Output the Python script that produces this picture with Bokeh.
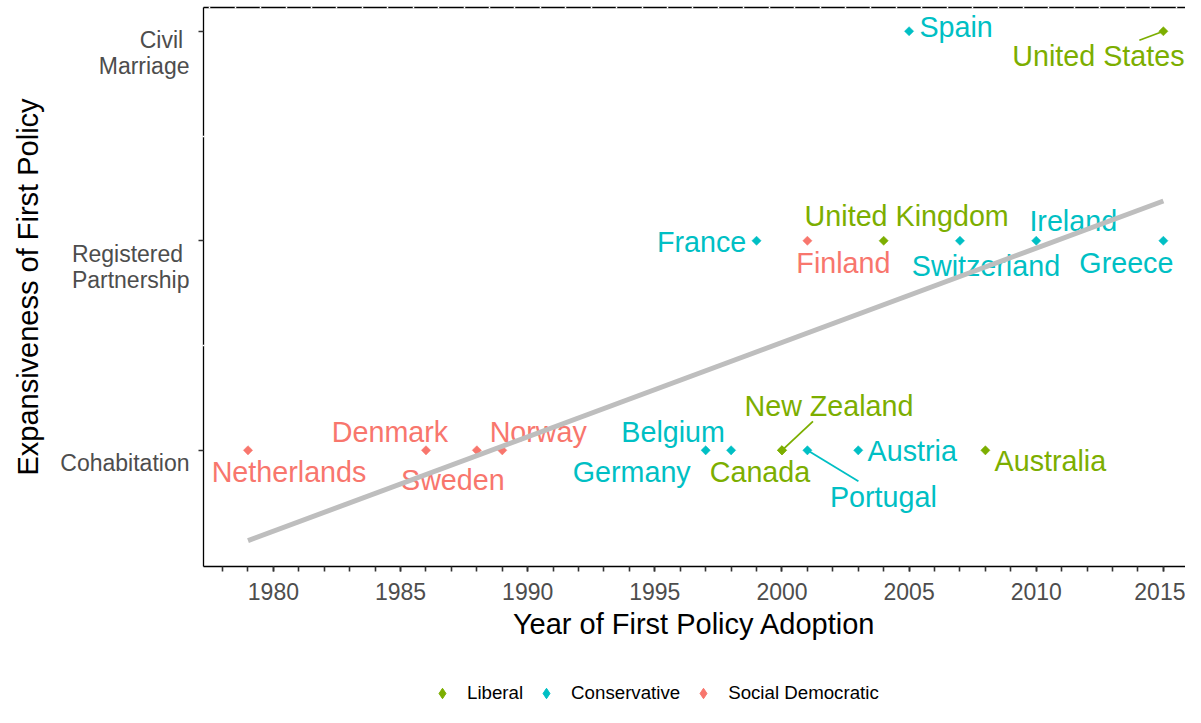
import numpy as np
from bokeh.plotting import figure
from bokeh.layouts import column
from bokeh.models import FixedTicker, Legend, LegendItem, ColumnDataSource, Range1d, LinearAxis
from bokeh.core.properties import value
from bokeh.embed import file_html
from bokeh.resources import INLINE

# ---------------- data ----------------
countries = ["Netherlands", "Denmark", "Sweden", "Norway", "Germany", "Belgium",
             "Canada", "New Zealand", "Portugal", "Austria", "Australia",
             "France", "Finland", "United Kingdom", "Switzerland", "Ireland", "Greece",
             "Spain", "United States"]
years = [1979, 1986, 1988, 1989, 1997, 1998,
         2000, 2000, 2001, 2003, 2008,
         1999, 2001, 2004, 2007, 2010, 2015,
         2005, 2015]
# 1 = Cohabitation, 2 = Registered Partnership, 3 = Civil Marriage
policy = [1, 1, 1, 1, 1, 1,
          1, 1, 1, 1, 1,
          2, 2, 2, 2, 2, 2,
          3, 3]
regime = ["Social Democratic", "Social Democratic", "Social Democratic", "Social Democratic",
          "Conservative", "Conservative",
          "Liberal", "Liberal", "Conservative", "Conservative", "Liberal",
          "Conservative", "Social Democratic", "Liberal", "Conservative", "Conservative", "Conservative",
          "Conservative", "Liberal"]

policy_labels = {1: "\nCohabitation", 2: "\n\nRegistered \nPartnership", 3: "\nCivil \nMarriage"}
groups = ["Liberal", "Conservative", "Social Democratic"]
x_ticks = [1980, 1985, 1990, 1995, 2000, 2005, 2010, 2015]

# ---------------- styling (label placement in screen px) ----------------
colors = {"Liberal": "#7CAE00", "Conservative": "#00BFC4", "Social Democratic": "#F8766D"}
label_dx = [41, -36, -24, 36, -74, -58,
            -22, 47, 76, 54, 65,
            -55, 36, 23, 26, 37, -37,
            47, -65]
label_dy = [22, -18, 30, -18, 22, -18,
            22, -44, 47, 1, 11,
            1, 22, -25, 25, -20, 22,
            -4, 25]
leader_dx = [0, 0, 0, 0, 0, 0, 0, 31, 51, 0, 0, 0, 0, 0, 0, 0, 0, 0, -24]
leader_dy = [0, 0, 0, 0, 0, 0, 0, -29, 31, 0, 0, 0, 0, 0, 0, 0, 0, 0, 9]

FONT = "Liberation Sans"
W, H1, H2 = 1185, 650, 57
BL, BR, BT, BB = 203, 0, 7, 84
X0, X1 = 1977.25, 2015.87
Y0, Y1 = 0.4454, 3.1133
px_x = (W - BL - BR) / (X1 - X0)
px_y = (H1 - BT - BB) / (Y1 - Y0)

p = figure(width=W, height=H1, x_range=Range1d(X0, X1), y_range=Range1d(Y0, Y1),
           output_backend="svg", toolbar_location=None,
           min_border_left=BL, min_border_right=BR, min_border_top=BT, min_border_bottom=BB)
p.xgrid.visible = False
p.ygrid.visible = False
p.outline_line_color = None
p.background_fill_color = "white"
p.border_fill_color = "white"

xa = p.below[0]
ya = p.left[0]

# axes
xa.ticker = FixedTicker(ticks=x_ticks, minor_ticks=list(range(1978, 2017)))
xa.axis_label = "Year of First Policy Adoption"
ya.ticker = FixedTicker(ticks=[1, 2, 3], minor_ticks=[1.5, 2.5])
ya.major_label_overrides = policy_labels
ya.axis_label = "Expansiveness of First Policy"
for ax in (xa, ya):
    ax.axis_line_color = "black"
    ax.axis_line_width = 1.3
    ax.major_tick_line_color = "#333333"
    ax.major_tick_line_width = 1.6
    ax.major_tick_out = 5
    ax.major_tick_in = 0
    ax.major_label_text_font = FONT
    ax.major_label_text_font_size = "23px"
    ax.major_label_text_color = "#4D4D4D"
    ax.axis_label_text_font = FONT
    ax.axis_label_text_font_size = "29px"
    ax.axis_label_text_font_style = "normal"
    ax.axis_label_text_color = "black"
xa.minor_tick_line_color = "#333333"
xa.minor_tick_line_width = 1.6
xa.minor_tick_out = 5
xa.minor_tick_in = 0
ya.minor_tick_line_color = "white"
ya.minor_tick_line_width = 1.5
ya.minor_tick_out = 1
ya.minor_tick_in = 1
ya.major_label_text_line_height = 1.0
xa.major_label_standoff = 11
xa.axis_label_standoff = 5
ya.major_label_standoff = 9
ya.axis_label_standoff = 13

# top border drawn as a bare axis with small white notches
top = LinearAxis(ticker=FixedTicker(ticks=[], minor_ticks=[y + 0.5 for y in range(1977, 2016)]),
                 axis_line_color="black", axis_line_width=1.3,
                 minor_tick_line_color="white", minor_tick_line_width=1.5,
                 minor_tick_in=1, minor_tick_out=1, major_tick_out=0, major_tick_in=0,
                 major_label_standoff=0, axis_label_standoff=0)
p.add_layout(top, "above")

# points per group
for g in groups:
    idx = [i for i, r in enumerate(regime) if r == g]
    src = ColumnDataSource(dict(x=[years[i] for i in idx], y=[policy[i] for i in idx]))
    p.scatter("x", "y", source=src, marker="square", angle=np.pi / 4,
              size=6.5, fill_color=colors[g], line_color=colors[g], line_width=0.5)

# leader segments
seg_idx = [i for i in range(len(countries)) if leader_dx[i] or leader_dy[i]]
p.segment(x0=[years[i] for i in seg_idx], y0=[policy[i] for i in seg_idx],
          x1=[years[i] + leader_dx[i] / px_x for i in seg_idx],
          y1=[policy[i] - leader_dy[i] / px_y for i in seg_idx],
          line_color=[colors[regime[i]] for i in seg_idx], line_width=1.8)

# text labels
lab = ColumnDataSource(dict(x=years, y=policy, text=countries, dx=label_dx, dy=label_dy,
                            color=[colors[r] for r in regime]))
p.text(x="x", y="y", text="text", x_offset="dx", y_offset="dy", text_color="color", source=lab,
       text_font=value(FONT), text_font_size="28.7px", text_align="center", text_baseline="middle")

# linear fit
slope, intercept = np.polyfit(years, policy, 1)
fx = np.array([min(years), max(years)])
p.line(fx, intercept + slope * fx, line_color="#BEBEBE", line_width=5)

# ---------------- legend strip (separate figure below, frame aligned with main) ----------------
p2 = figure(width=W, height=H2, x_range=Range1d(0, 1), y_range=Range1d(0, 1),
            x_axis_type=None, y_axis_type=None, output_backend="svg", toolbar_location=None,
            min_border=0)
p2.xgrid.visible = False
p2.ygrid.visible = False
p2.outline_line_color = None
p2.background_fill_color = "white"
p2.border_fill_color = "white"
leg_renderers = {}
for g in groups:
    idx = [i for i, r in enumerate(regime) if r == g]
    # same group data; it lies outside this strip's ranges, so only the legend swatch shows
    leg_renderers[g] = p2.scatter(x=[years[i] for i in idx], y=[policy[i] for i in idx],
                                  marker="diamond", size=10,
                                  fill_color=colors[g], line_color=colors[g])
legend = Legend(items=[LegendItem(label=g, renderers=[leg_renderers[g]]) for g in groups],
                orientation="horizontal", location=(226, 0),
                border_line_color=None, background_fill_alpha=0,
                label_text_font=FONT, label_text_font_size="18.7px", label_text_color="black",
                glyph_width=26, glyph_height=28, label_standoff=12, spacing=10,
                padding=0, margin=0)
p2.add_layout(legend, "center")

open("out.html", "w").write(file_html(column(p, p2, spacing=0), INLINE))
